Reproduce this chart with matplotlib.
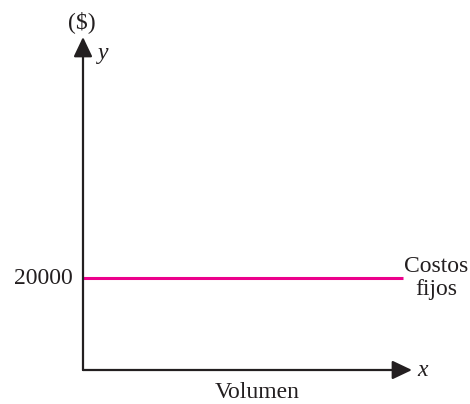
import matplotlib.pyplot as plt

# datos
costo_fijo = 20000
volumen = [0, 100]
costos = [costo_fijo, costo_fijo]
etiqueta_y = "20000"

plt.rcParams['font.family'] = ['Liberation Serif', 'DejaVu Serif']

W, H = 470, 404
fig = plt.figure(figsize=(W / 100, H / 100), dpi=100)
# origen en (83, 370) px, flecha y hasta 37 px, flecha x hasta 412 px
ax = fig.add_axes([83 / W, (H - 370) / H, (412 - 83) / W, (370 - 37) / H])
ax.set_xlim(0, 100 * 329 / 320)
ax.set_ylim(0, costo_fijo * 333 / 92)
ax.axis('off')

# linea de costos fijos
ax.plot(volumen, costos, color='#ec008c', lw=2.2, solid_capstyle='butt')

# ejes con flechas
flecha = dict(arrowstyle='-|>,head_length=0.8,head_width=0.38', color='#231f20',
              lw=1.6, shrinkA=0, shrinkB=0, mutation_scale=15)
ax.annotate('', xy=(1, 0), xytext=(0, 0), xycoords='axes fraction', arrowprops=flecha)
ax.annotate('', xy=(0, 1), xytext=(0, 0), xycoords='axes fraction', arrowprops=flecha)

fs = 17
c = '#231f20'
ax.text(-10 / 329, costo_fijo, etiqueta_y, transform=ax.get_yaxis_transform(),
        ha='right', va='center', fontsize=fs, color=c)
ax.text(-1 / 329, 1 + 15 / 333, '(\\$)', transform=ax.transAxes, ha='center', va='center',
        fontsize=fs, color=c)
ax.text(15 / 329, 1 - 16 / 333, 'y', transform=ax.transAxes, ha='left', va='center',
        fontsize=fs, color=c, style='italic')
ax.text(1 + 5 / 329, 0, 'x', transform=ax.transAxes, ha='left', va='center',
        fontsize=fs, color=c, style='italic')
ax.text(0.5 + 10 / 329, -23 / 333, 'Volumen', transform=ax.transAxes, ha='center',
        va='center', fontsize=fs, color=c)
ax.text(1 + 24 / 329, costo_fijo, 'Costos\nfijos', transform=ax.get_yaxis_transform(),
        ha='center', va='center', fontsize=fs, color=c, linespacing=1.1)

fig.savefig('out.png', dpi=100)
